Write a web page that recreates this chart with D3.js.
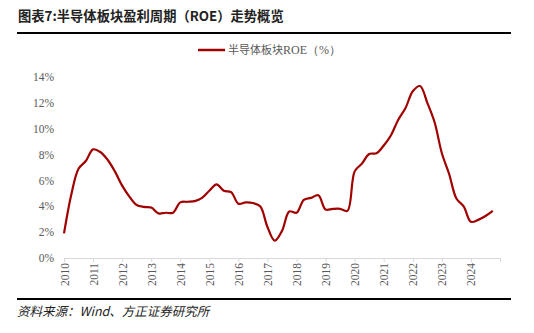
<!DOCTYPE html>
<html><head><meta charset="utf-8">
<script src="https://cdn.jsdelivr.net/npm/d3@7"></script>
<style>body{margin:0;background:#fff}svg{display:block}</style>
</head><body>
<svg id="c" width="534" height="333"></svg>
<script>
const years = d3.range(2010, 2025);
const quarterStarts = d3.range(0, 60).map(i => 2010 + i / 4);
const roeValues = [
 1.9,4.9,6.9,7.5, 8.4,8.2,7.6,6.7, 5.6,4.75,4.1,3.95, 3.9,3.45,3.5,3.5,
 4.3,4.35,4.4,4.65, 5.2,5.7,5.2,5.1, 4.2,4.3,4.25,4.0, 2.4,1.35,2.1,3.6,
 3.5,4.5,4.65,4.85, 3.75,3.8,3.8,3.65, 6.7,7.3,8.05,8.1, 8.7,9.5,10.7,11.6,
 12.9,13.3,12.0,10.5, 8.1,6.5,4.6,4.0, 2.8,2.95,3.25,3.65];
const yTicks = [0,2,4,6,8,10,12,14];
const titleText = "图表7:半导体板块盈利周期（ROE）走势概览";
const legendCn = "半导体板块";
const legendRest = "ROE（%）";
const sourceText = "资料来源：Wind、方正证券研究所";

const svg = d3.select("#c");
const x = d3.scaleLinear().domain([2010, 2025]).range([64, 500]);
const y = d3.scaleLinear().domain([0, 14]).range([258, 77]);

// title
svg.append("text").attr("x", 18).attr("y", 21)
  .attr("font-family", "'Noto Sans CJK SC'").attr("font-size", 13.3).attr("font-weight", "bold")
  .attr("fill", "#222").text(titleText);
svg.append("line").attr("x1", 17).attr("x2", 511).attr("y1", 33).attr("y2", 33)
  .attr("stroke", "#000").attr("stroke-width", 2);

// legend
svg.append("line").attr("x1", 198).attr("x2", 225).attr("y1", 50).attr("y2", 50)
  .attr("stroke", "#a00000").attr("stroke-width", 2.5);
const lt = svg.append("text").attr("x", 228).attr("y", 54)
  .attr("font-family", "'Noto Sans CJK SC'").attr("font-size", 11).attr("fill", "#595959");
lt.append("tspan").text(legendCn);
lt.append("tspan").attr("font-family", "'Liberation Serif'").attr("font-size", 12).text(legendRest);

// y axis labels
const yAxis = d3.axisLeft(y).tickValues(yTicks).tickSize(0).tickPadding(0).tickFormat(d => d + "%");
const gy = svg.append("g").attr("transform", "translate(54,0)").call(yAxis);
gy.select(".domain").remove();
gy.selectAll("text").attr("font-family", "'Liberation Serif'").attr("font-size", 11.5).attr("fill", "#595959");

// x axis
const xAxis = d3.axisBottom(x).tickValues(years.concat([2025])).tickSize(4).tickSizeOuter(0)
  .tickFormat(d => d === 2025 ? "" : String(d));
const gx = svg.append("g").attr("transform", "translate(0,258)").call(xAxis);
gx.select(".domain").attr("stroke", "#d9d9d9").attr("stroke-width", 1.2);
gx.selectAll(".tick line").attr("stroke", "#d9d9d9");
gx.selectAll("text").attr("font-family", "'Liberation Serif'").attr("font-size", 11.5).attr("fill", "#595959")
  .attr("transform", "rotate(-90)").attr("text-anchor", "end").attr("dx", "-5").attr("dy", "0.35em").attr("x", 0).attr("y", 0);

// line
const line = d3.line().x((d, i) => x(quarterStarts[i])).y(d => y(d)).curve(d3.curveCatmullRom.alpha(0.5));
svg.append("path").datum(roeValues).attr("d", line).attr("fill", "none")
  .attr("stroke", "#a00000").attr("stroke-width", 2.2).attr("stroke-linejoin", "round");

// source
svg.append("line").attr("x1", 17).attr("x2", 511).attr("y1", 299).attr("y2", 299)
  .attr("stroke", "#000").attr("stroke-width", 2);
svg.append("text").attr("x", 17).attr("y", 316)
  .attr("font-family", "'Noto Sans CJK SC'").attr("font-size", 12.5).attr("font-style", "italic")
  .attr("fill", "#222").text(sourceText);
</script>
</body></html>
